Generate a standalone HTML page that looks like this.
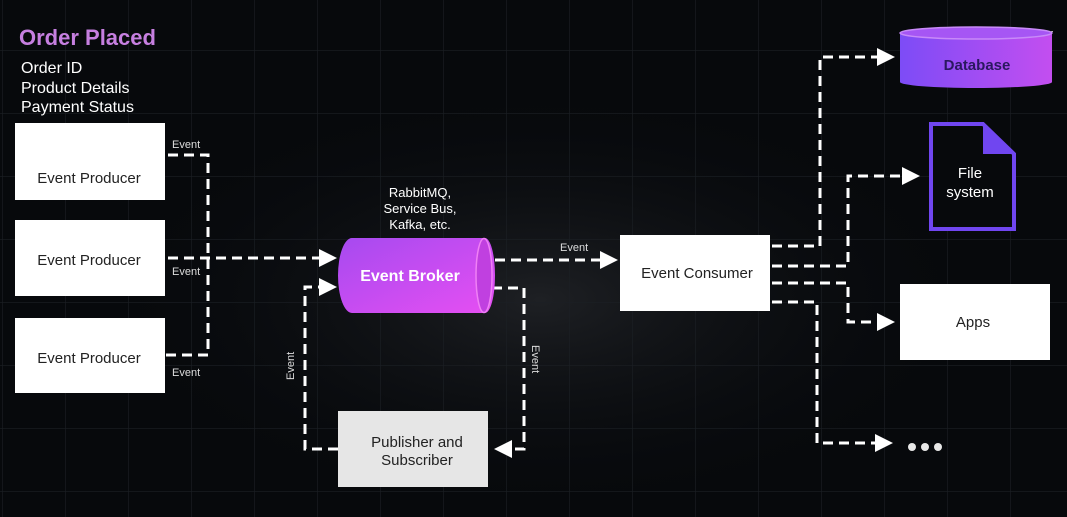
<!DOCTYPE html>
<html><head><meta charset="utf-8"><style>
html,body{margin:0;padding:0;background:#07090c;width:1067px;height:517px;overflow:hidden;position:relative;}
svg{display:block;position:absolute;left:0;top:0;}
text{font-family:"Liberation Sans",sans-serif;}
</style></head><body>
<svg width="1067" height="517" viewBox="0 0 1067 517" xmlns="http://www.w3.org/2000/svg">
<defs>
<pattern id="g" x="2" y="50" width="63" height="63" patternUnits="userSpaceOnUse">
<path d="M0 0H63M0 0V63" stroke="#1b1f24" stroke-width="1.2" fill="none"/>
</pattern>
<radialGradient id="glow" cx="0.5" cy="0.5" r="0.5"><stop offset="0" stop-color="#1e2024"/><stop offset="1" stop-color="#07090c" stop-opacity="0"/></radialGradient>
<linearGradient id="bk" x1="0" y1="0" x2="1" y2="1"><stop offset="0" stop-color="#a64af0"/><stop offset="1" stop-color="#e64ff2"/></linearGradient>
<linearGradient id="db" x1="0" y1="0" x2="1" y2="0"><stop offset="0" stop-color="#7d4cf6"/><stop offset="1" stop-color="#c34ef0"/></linearGradient>
<marker id="a" markerWidth="6" markerHeight="6" refX="1" refY="3" orient="auto" markerUnits="strokeWidth"><path d="M0 0L6 3L0 6Z" fill="#fff"/></marker>
</defs>
<rect width="1067" height="517" fill="#07090c"/>
<ellipse cx="540" cy="300" rx="450" ry="217" fill="url(#glow)"/>
<rect width="1067" height="517" fill="url(#g)"/>

<text x="19" y="45" font-size="22" font-weight="bold" fill="#c67fe0">Order Placed</text>
<g font-size="16" fill="#fff"><text x="21" y="73">Order ID</text><text x="21" y="93">Product Details</text><text x="21" y="112">Payment Status</text></g>
<text x="1036" y="40" font-size="13" fill="#fff">BY</text>

<g fill="#fff"><rect x="15" y="123" width="150" height="77"/><rect x="15" y="220" width="150" height="76"/><rect x="15" y="318" width="150" height="75"/><rect x="620" y="235" width="150" height="76"/><rect x="900" y="284" width="150" height="76"/></g>
<rect x="338" y="411" width="150" height="76" fill="#e6e6e6"/>
<g font-size="15" fill="#222" text-anchor="middle">
<text x="89" y="183">Event Producer</text><text x="89" y="265">Event Producer</text><text x="89" y="363">Event Producer</text>
<text x="697" y="278">Event Consumer</text><text x="973" y="327">Apps</text>
<text x="417" y="447">Publisher and</text><text x="417" y="465">Subscriber</text></g>

<g font-size="11" fill="#ddd"><text x="172" y="148">Event</text><text x="172" y="275">Event</text><text x="172" y="376">Event</text><text x="560" y="251">Event</text>
<text transform="translate(294,380) rotate(-90)">Event</text><text transform="translate(532,345) rotate(90)">Event</text></g>
<g font-size="13" fill="#fff" text-anchor="middle"><text x="420" y="197">RabbitMQ,</text><text x="420" y="213">Service Bus,</text><text x="420" y="229">Kafka, etc.</text></g>

<g fill="none" stroke="#fff" stroke-width="3" stroke-dasharray="10 6">
<path d="M168 155H208V355H165"/>
<path d="M168 258H322" marker-end="url(#a)"/>
<path d="M338 449H305V287H322" marker-end="url(#a)"/>
<path d="M492 288H524V449H509" marker-end="url(#a)"/>
<path d="M495 260H603" marker-end="url(#a)"/>
<path d="M772 246H820V57H880" marker-end="url(#a)"/>
<path d="M772 266H848V176H905" marker-end="url(#a)"/>
<path d="M772 283H848V322H880" marker-end="url(#a)"/>
<path d="M772 302H817V443H878" marker-end="url(#a)"/>
</g>

<path d="M352 238H485A10 37.5 0 0 1 485 313H352A14 37.5 0 0 1 352 238Z" fill="url(#bk)"/>
<ellipse cx="484" cy="275.5" rx="8" ry="37" fill="#c040e0" stroke="#f080f5" stroke-width="1.5"/>
<text x="410" y="281" font-size="16" font-weight="bold" fill="#fff" text-anchor="middle">Event Broker</text>

<path d="M900 33V82A76 6 0 0 0 1052 82V33Z" fill="url(#db)"/>
<ellipse cx="976" cy="33" rx="76" ry="6" fill="#a656f4" stroke="#c88af8" stroke-width="1.5"/>
<text x="977" y="70" font-size="15" font-weight="bold" fill="#2a1860" text-anchor="middle">Database</text>

<path d="M931 124H983L1014 154V229H931Z" fill="#07090c" stroke="#7046f0" stroke-width="4"/>
<path d="M983 124V154H1014Z" fill="#7046f0"/>
<text x="970" y="178" font-size="15" fill="#fff" text-anchor="middle">File</text>
<text x="970" y="197" font-size="15" fill="#fff" text-anchor="middle">system</text>

<g fill="#e8e8e8"><circle cx="912" cy="447" r="4"/><circle cx="925" cy="447" r="4"/><circle cx="938" cy="447" r="4"/></g>
</svg>
</body></html>
